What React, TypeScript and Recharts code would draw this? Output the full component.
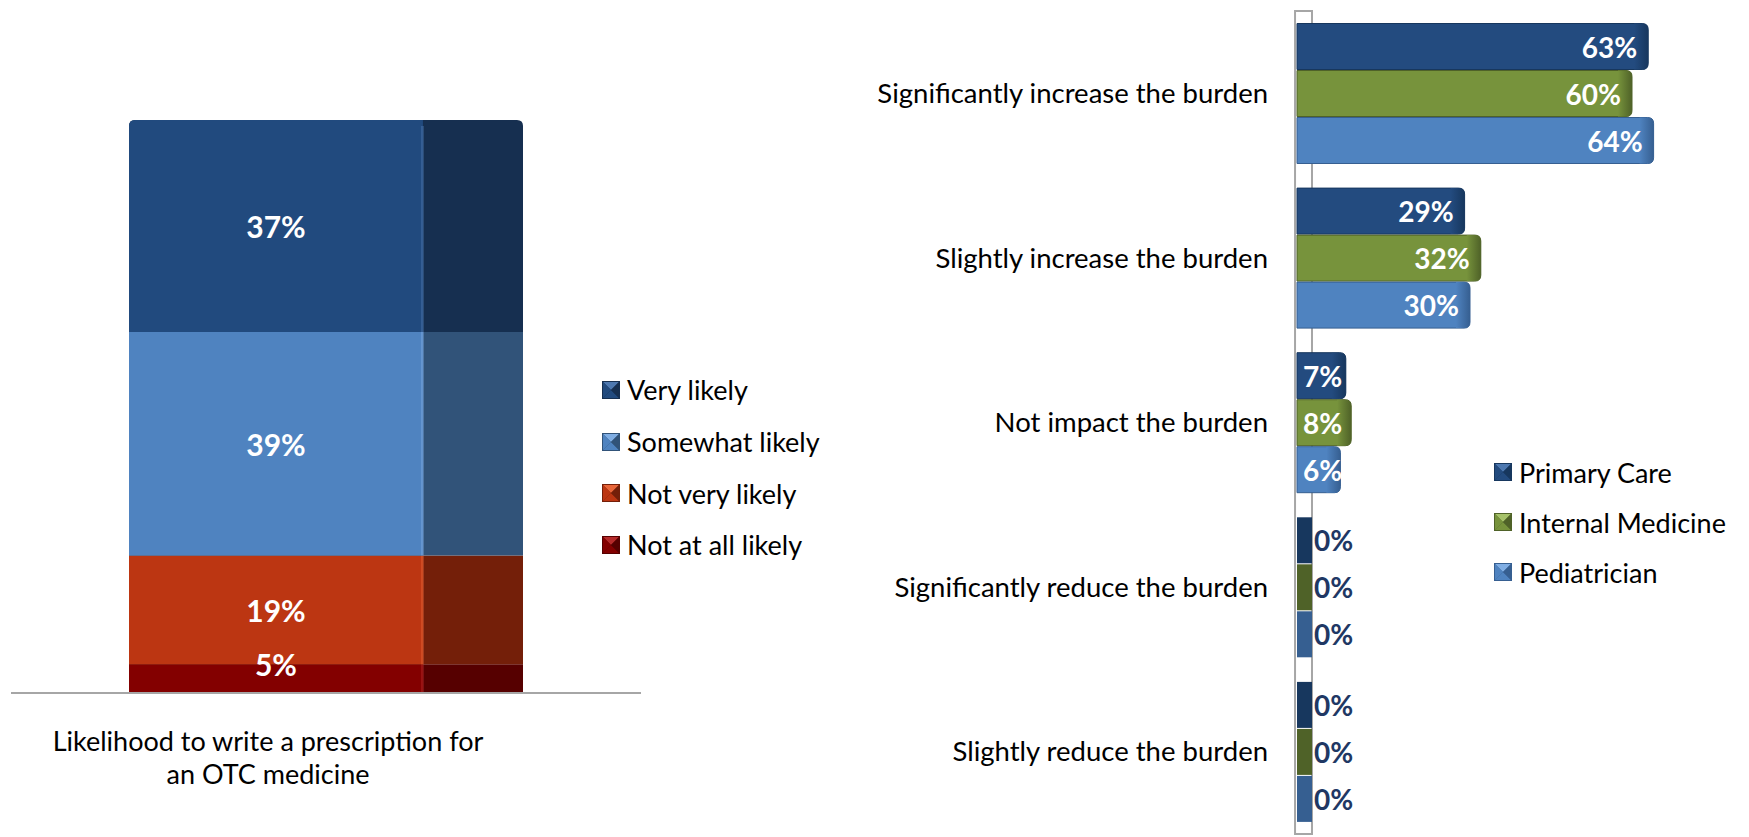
import React from 'react';
import { BarChart, Bar, XAxis, YAxis, LabelList, Legend, ReferenceArea } from 'recharts';

const FONT = 'Lato, "Noto Sans", sans-serif';

// ---------- Left chart data ----------
const likelihoodCategories = ['Likelihood to write a prescription for an OTC medicine'];
const likelihoodLabelLines = ['Likelihood to write a prescription for', 'an OTC medicine'];
const veryLikely = [37];
const somewhatLikely = [39];
const notVeryLikely = [19];
const notAtAllLikely = [5];

// ---------- Right chart data ----------
const burdenCategories = [
  'Significantly increase the burden',
  'Slightly increase the burden',
  'Not impact the burden',
  'Significantly reduce the burden',
  'Slightly reduce the burden',
];
const primaryCare = [63, 29, 7, 0, 0];
const internalMedicine = [60, 32, 8, 0, 0];
const pediatrician = [64, 30, 6, 0, 0];

const likelihoodData = likelihoodCategories.map((name, i) => ({
  name,
  notAtAll: notAtAllLikely[i],
  notVery: notVeryLikely[i],
  somewhat: somewhatLikely[i],
  very: veryLikely[i],
}));

const burdenData = burdenCategories.map((name, i) => ({
  name,
  primary: primaryCare[i],
  internal: internalMedicine[i],
  pediatric: pediatrician[i],
}));

type Series = { key: string; name: string; face: string; side: string; light: string };

const likelihoodSeries: Series[] = [
  { key: 'very', name: 'Very likely', face: '#214A7E', side: '#162F50', light: '#4D78B0' },
  { key: 'somewhat', name: 'Somewhat likely', face: '#4F83C0', side: '#315379', light: '#80AEE4' },
  { key: 'notVery', name: 'Not very likely', face: '#BC3612', side: '#741F09', light: '#E8663A' },
  { key: 'notAtAll', name: 'Not at all likely', face: '#830000', side: '#560000', light: '#B52A2A' },
];

const burdenSeries: Series[] = [
  { key: 'primary', name: 'Primary Care', face: '#234B7F', side: '#17375E', light: '#4D78B0' },
  { key: 'internal', name: 'Internal Medicine', face: '#77933C', side: '#4F6228', light: '#A6C26A' },
  { key: 'pediatric', name: 'Pediatrician', face: '#4F83C0', side: '#365F91', light: '#80AEE4' },
];

const seriesByKey = (list: Series[], key: string) => list.find((s) => s.key === key) as Series;

function roundRectPath(x: number, y: number, w: number, h: number, tl: number, tr: number, br: number, bl: number) {
  return `M${x + tl},${y} H${x + w - tr} Q${x + w},${y} ${x + w},${y + tr} V${y + h - br} Q${x + w},${y + h} ${x + w - br},${y + h} H${x + bl} Q${x},${y + h} ${x},${y + h - bl} V${y + tl} Q${x},${y} ${x + tl},${y} Z`;
}

const FACE_RATIO = 0.746;

const makeColumnShape = (s: Series, roundTop: boolean) => (props: any) => {
  const { x, y, width, height } = props;
  if (!(height > 0)) return <g />;
  const fw = width * FACE_RATIO;
  const r = roundTop ? 6 : 0;
  return (
    <g>
      <path d={roundRectPath(x, y, width, height, r, r, 0, 0)} fill={s.side} />
      <path d={roundRectPath(x, y, fw, height, r, 0, 0, 0)} fill={s.face} />
      <rect x={x + fw - 2} y={y + r} width={3} height={height - r} fill={s.light} opacity={0.45} />
    </g>
  );
};

const columnLabel = (props: any) => {
  const { x, y, width, height, value } = props;
  const cx = x + (width * FACE_RATIO) / 2;
  const cy = height < 40 ? y : y + height / 2;
  return (
    <text x={cx} y={cy} textAnchor="middle" dominantBaseline="central" fill="#FFFFFF"
      fontFamily={FONT} fontWeight={700} fontSize={30}>
      {`${value}%`}
    </text>
  );
};

const makeHBarShape = (s: Series) => (props: any) => {
  const { x, y, width, height, value, index } = props;
  const left = x - 11;
  const top = y + 0.5;
  const h = height - 1;
  if (!value) {
    return <rect x={left} y={top} width={15} height={h} fill={s.side} />;
  }
  const right = x + width;
  const w = right - left;
  const id = `cap-${s.key}-${index}`;
  const capW = Math.min(14, w / 3);
  return (
    <g>
      <defs>
        <linearGradient id={id} x1="0" y1="0" x2="1" y2="0">
          <stop offset="0" stopColor={s.face} />
          <stop offset="1" stopColor={s.side} />
        </linearGradient>
      </defs>
      <path d={roundRectPath(left, top, w, h, 0, 6, 6, 0)} fill={s.face} stroke={s.side} strokeWidth={1} />
      <path d={roundRectPath(right - capW, top, capW, h, 0, 6, 6, 0)} fill={`url(#${id})`} />
    </g>
  );
};

const hbarLabel = (props: any) => {
  const { x, y, width, height, value } = props;
  const cy = y + height / 2;
  const fs = 28;
  if (!value) {
    return (
      <text x={x + 6} y={cy} dominantBaseline="central" fill="#1F3864" fontFamily={FONT} fontWeight={700} fontSize={fs}>
        0%
      </text>
    );
  }
  const text = `${value}%`;
  const tw = (text.length - 1) * 0.58 * fs + 0.82 * fs;
  let end = x + width - 11;
  if (end - tw < x - 5) end = x - 5 + tw;
  return (
    <text x={end} y={cy} textAnchor="end" dominantBaseline="central" fill="#FFFFFF" fontFamily={FONT} fontWeight={700} fontSize={fs}>
      {text}
    </text>
  );
};

const BevelSquare = ({ s }: { s: Series }) => (
  <svg width={18} height={18} style={{ display: 'block', flex: '0 0 auto' }}>
    <rect x={0} y={0} width={18} height={18} fill={s.side} />
    <polygon points="1,1 17,1 9,9" fill={s.light} />
    <polygon points="1,17 17,17 9,9" fill={s.face} />
    <polygon points="1,1 1,17 9,9" fill={s.face} />
    <polygon points="17,1 17,17 9,9" fill={s.side} />
  </svg>
);

const makeLegend = (series: Series[], rowH: number) => () => (
  <div style={{ fontFamily: FONT, fontSize: 27, color: '#000' }}>
    {series.map((s) => (
      <div key={s.key} style={{ display: 'flex', alignItems: 'center', height: rowH }}>
        <BevelSquare s={s} />
        <span style={{ marginLeft: 7, lineHeight: 1, whiteSpace: 'nowrap' }}>{s.name}</span>
      </div>
    ))}
  </div>
);

const LikelihoodTick = (props: any) => {
  const { x, y } = props;
  const cx = x - 58;
  return (
    <text x={cx} y={y + 39} textAnchor="middle" dominantBaseline="central"
      fill="#000" fontFamily={FONT} fontSize={27}>
      {likelihoodLabelLines.map((line, i) => (
        <tspan key={i} x={cx} dy={i === 0 ? 0 : 33}>{line}</tspan>
      ))}
    </text>
  );
};

export default function App() {
  const stackOrder = ['notAtAll', 'notVery', 'somewhat', 'very'];
  return (
    <div style={{ position: 'absolute', left: 0, top: 0, width: 1749, height: 837, background: '#fff', fontFamily: FONT }}>
      <div style={{ position: 'absolute', left: 0, top: 0 }}>
        <BarChart width={840} height={837} data={likelihoodData}
          margin={{ top: 120, right: 199, bottom: 0, left: 11 }} barSize={394}>
          <XAxis dataKey="name" height={144} tickLine={false} tick={<LikelihoodTick />}
            axisLine={{ stroke: '#A6A6A6', strokeWidth: 2 }} />
          <YAxis hide domain={[0, 100]} />
          <Legend layout="vertical" align="center" verticalAlign="middle"
            wrapperStyle={{ left: 602, top: 364, width: 240 }}
            content={makeLegend(likelihoodSeries, 51.7)} />
          {stackOrder.map((key) => {
            const s = seriesByKey(likelihoodSeries, key);
            return (
              <Bar key={key} dataKey={key} name={s.name} stackId="a" fill={s.face}
                isAnimationActive={false} shape={makeColumnShape(s, key === 'very')}>
                <LabelList dataKey={key} content={columnLabel} />
              </Bar>
            );
          })}
        </BarChart>
      </div>
      <div style={{ position: 'absolute', left: 840, top: 0 }}>
        <BarChart layout="vertical" width={909} height={837} data={burdenData}
          margin={{ top: 11, right: 9, bottom: 3, left: 0 }} barCategoryGap={12} barGap={0}>
          <XAxis type="number" domain={[0, 80]} hide />
          <YAxis type="category" dataKey="name" width={468} tickLine={false} axisLine={false}
            tickSize={0} tickMargin={40} tick={{ fill: '#000', fontSize: 27.5, fontFamily: FONT }} />
          <ReferenceArea x1={-2.4} x2={0.74} ifOverflow="visible" fill="#FFFFFF" fillOpacity={1}
            stroke="#A6A6A6" strokeWidth={2} />
          <Legend layout="vertical" align="center" verticalAlign="middle"
            wrapperStyle={{ left: 654, top: 447, width: 255 }}
            content={makeLegend(burdenSeries, 50)} />
          {burdenSeries.map((s) => (
            <Bar key={s.key} dataKey={s.key} name={s.name} fill={s.face}
              isAnimationActive={false} shape={makeHBarShape(s)}>
              <LabelList dataKey={s.key} content={hbarLabel} />
            </Bar>
          ))}
        </BarChart>
      </div>
    </div>
  );
}
